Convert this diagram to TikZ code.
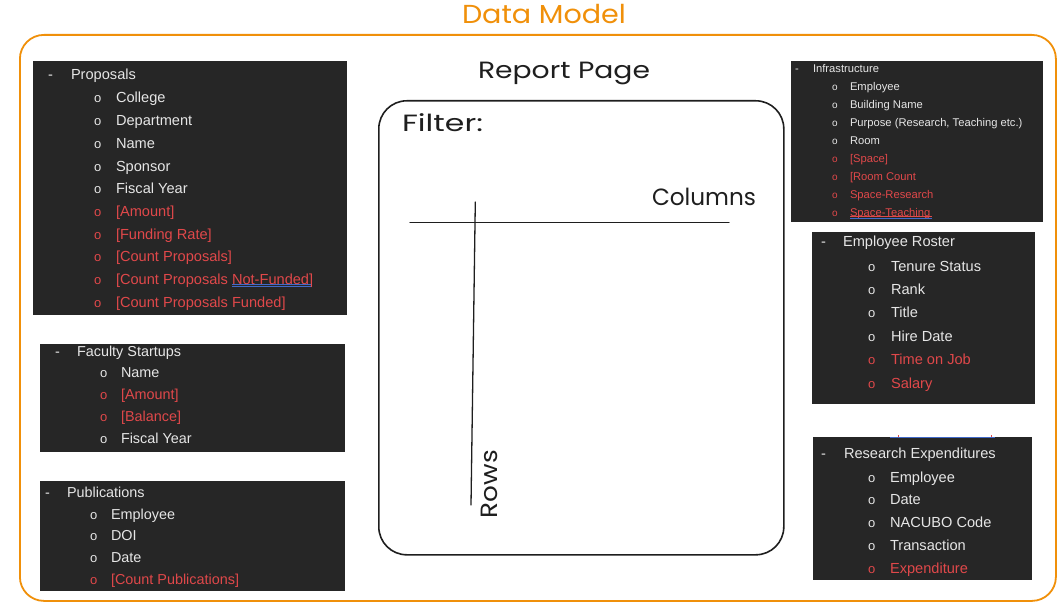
\documentclass[tikz,border=0pt]{standalone}
\usepackage{graphicx}
\usepackage{fontspec}
\setmainfont{Liberation Sans}
\newfontfamily\handfont{Poppins}
\definecolor{boxbg}{HTML}{262626}
\definecolor{itemw}{HTML}{E6E6E6}
\definecolor{itemr}{HTML}{E0484A}
\definecolor{frameor}{HTML}{F0900A}
\definecolor{ulblue}{HTML}{4169C8}
\definecolor{inkc}{HTML}{1E1E1E}
\newcommand\bigfont{\fontsize{14.6}{17}\selectfont}
\newcommand\midfont{\fontsize{14.4}{17}\selectfont}
\newcommand\smallfont{\fontsize{11.2}{13}\selectfont}
\newcommand\handw[2]{\resizebox{#1}{\height}{#2}}
\tikzset{
  darkbox/.style={fill=boxbg, draw=none, inner sep=0pt, outer sep=0pt, anchor=north west},
  wt/.style={anchor=base west, inner sep=0pt, outer sep=0pt, text=itemw},
  hand/.style={inner sep=0pt, outer sep=0pt, text=inkc, font=\handfont\fontsize{23.5}{26}\selectfont},
  ink/.style={draw=inkc, line width=1.3pt, line cap=round},
}
\begin{document}
\begin{tikzpicture}[x=1pt,y=-1pt]
\useasboundingbox (0,0) rectangle (1062,612);

% outer frame
\node[draw=frameor, line width=1.8pt, rounded corners=24pt, minimum width=1036pt, minimum height=566pt, inner sep=0pt, anchor=north west] (frame) at (19,34) {};
\node[inner sep=0pt, text=frameor, font=\handfont\fontsize{26}{28}\selectfont] (title) at (544,14) {\handw{164pt}{Data Model}};

% ---------- Proposals
\node[darkbox, minimum width=314pt, minimum height=254pt] (prop) at (33,61) {};
\node[wt, font=\bigfont] (prop-dash) at (48,80) {-};
\node[wt, font=\bigfont] (prop-title) at (71,80) {Proposals};
\foreach \t/\c [count=\i from 0] in {College/itemw, Department/itemw, Name/itemw, Sponsor/itemw, {Fiscal Year}/itemw, {[Amount]}/itemr, {[Funding Rate]}/itemr, {[Count Proposals]}/itemr, {[Count Proposals Not-Funded]}/itemr, {[Count Proposals Funded]}/itemr} {
  \node[wt, font=\fontsize{13}{15}\selectfont, text=\c] (prop-b\i) at (94,{103+22.7*\i}) {o};
  \node[wt, font=\bigfont, text=\c] (prop-i\i) at (116,{103+22.7*\i}) {\t};
}
\draw[ulblue, line width=0.8pt] (232,284.4) -- (311,284.4);
\draw[ulblue, line width=0.8pt] (232,286.6) -- (311,286.6);

% ---------- Faculty Startups
\node[darkbox, minimum width=305pt, minimum height=108pt] (fac) at (40,344) {};
\node[wt, font=\midfont] (fac-dash) at (55,356) {-};
\node[wt, font=\midfont] (fac-title) at (77,356) {Faculty Startups};
\foreach \t/\c [count=\i from 0] in {Name/itemw, {[Amount]}/itemr, {[Balance]}/itemr, {Fiscal Year}/itemw} {
  \node[wt, font=\fontsize{13}{15}\selectfont, text=\c] (fac-b\i) at (100,{377+22*\i}) {o};
  \node[wt, font=\midfont, text=\c] (fac-i\i) at (121,{377+22*\i}) {\t};
}

% ---------- Publications
\node[darkbox, minimum width=305pt, minimum height=110pt] (pub) at (40,481) {};
\node[wt, font=\midfont] (pub-dash) at (45,497) {-};
\node[wt, font=\midfont] (pub-title) at (67,497) {Publications};
\foreach \t/\c [count=\i from 0] in {Employee/itemw, DOI/itemw, Date/itemw, {[Count Publications]}/itemr} {
  \node[wt, font=\fontsize{13}{15}\selectfont, text=\c] (pub-b\i) at (90,{519+21.7*\i}) {o};
  \node[wt, font=\midfont, text=\c] (pub-i\i) at (111,{519+21.7*\i}) {\t};
}

% ---------- Infrastructure
\node[darkbox, minimum width=252pt, minimum height=161pt] (inf) at (791,61) {};
\node[wt, font=\smallfont] (inf-dash) at (795,72.5) {-};
\node[wt, font=\smallfont] (inf-title) at (813,72.5) {Infrastructure};
\foreach \t/\c [count=\i from 0] in {Employee/itemw, {Building Name}/itemw, {Purpose (Research, Teaching etc.)}/itemw, Room/itemw, {[Space]}/itemr, {[Room Count}/itemr, {Space-Research}/itemr, {Space-Teaching}/itemr} {
  \node[wt, font=\fontsize{10}{12}\selectfont, text=\c] (inf-b\i) at (832,{90.5+18*\i}) {o};
  \node[wt, font=\smallfont, text=\c] (inf-i\i) at (850,{90.5+18*\i}) {\t};
}
\draw[itemr, line width=0.7pt] (850,216.8) -- (932,216.8);
\draw[ulblue, line width=0.8pt] (850,218.6) -- (932,218.6);

% ---------- Employee Roster
\node[darkbox, minimum width=223pt, minimum height=172pt] (emp) at (812,232) {};
\node[wt, font=\bigfont] (emp-dash) at (821,247) {-};
\node[wt, font=\bigfont] (emp-title) at (843,247) {Employee Roster};
\foreach \t/\c [count=\i from 0] in {{Tenure Status}/itemw, Rank/itemw, Title/itemw, {Hire Date}/itemw, {Time on Job}/itemr, Salary/itemr} {
  \node[wt, font=\fontsize{13}{15}\selectfont, text=\c] (emp-b\i) at (868,{271+23.4*\i}) {o};
  \node[wt, font=\bigfont, text=\c] (emp-i\i) at (891,{271+23.4*\i}) {\t};
}

% ---------- Research Expenditures
\node[darkbox, minimum width=219pt, minimum height=143pt] (res) at (813,437) {};
\draw[ulblue, line width=1pt] (890,437.6) -- (995,437.6);
\draw[itemr, line width=1pt] (898,435) -- (898,437);
\draw[itemr, line width=1pt] (991,435) -- (991,437);
\node[wt, font=\bigfont] (res-dash) at (821,458) {-};
\node[wt, font=\bigfont] (res-title) at (844,458) {Research Expenditures};
\foreach \t/\c [count=\i from 0] in {Employee/itemw, Date/itemw, {NACUBO Code}/itemw, Transaction/itemw, Expenditure/itemr} {
  \node[wt, font=\fontsize{13}{15}\selectfont, text=\c] (res-b\i) at (868,{482+22.75*\i}) {o};
  \node[wt, font=\bigfont, text=\c] (res-i\i) at (890,{482+22.75*\i}) {\t};
}

% ---------- Report page
\node[hand] (rp-title) at (564,73) {\handw{172pt}{Report Page}};
\node[draw=inkc, line width=1.6pt, rounded corners=28pt, minimum width=405pt, minimum height=454pt, inner sep=0pt, anchor=north west] (page) at (378,100) {};
\node[hand, anchor=west] (filter) at (402,123) {\handw{81pt}{Filter:}};
\node[hand, anchor=east] (columns) at (756,197) {\handw{104pt}{Columns}};
\coordinate (hl) at (410,222.7);
\coordinate (hr) at (729,222.7);
\coordinate (vt) at (475.3,202);
\coordinate (vb) at (471,505);
\draw[ink] (hl) -- (hr);
\draw[ink] (vt) -- (vb);
\node[hand, rotate=90] (rows) at (489.5,484) {\handw{68pt}{Rows}};
\end{tikzpicture}
\end{document}
